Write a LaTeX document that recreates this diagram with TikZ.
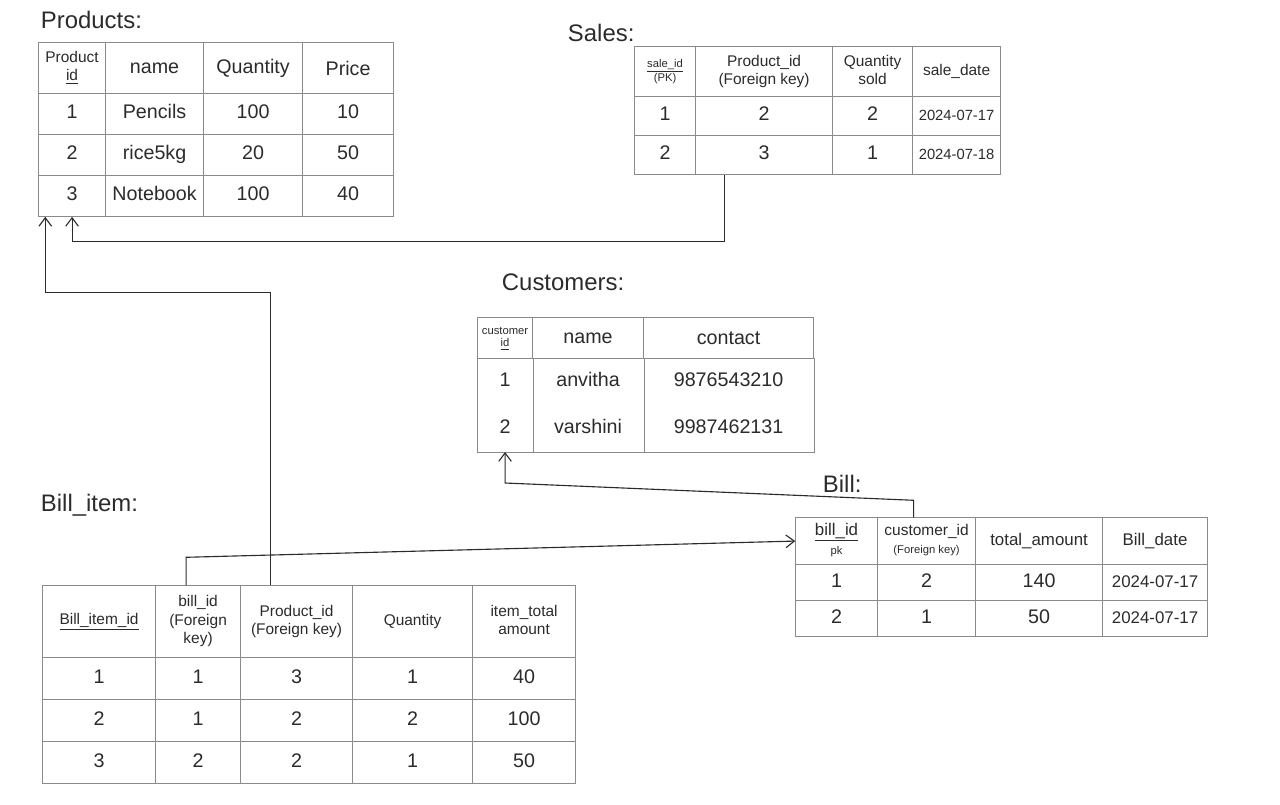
\documentclass[tikz,border=0pt]{standalone}
\usepackage{fontspec}
\setmainfont{Liberation Sans}
\usepackage{xcolor}
\usetikzlibrary{matrix,arrows.meta,calc}
\definecolor{gridc}{HTML}{8A8A8A}
\definecolor{inkc}{HTML}{2B2B2B}
\newcommand{\pxl}{0.025cm}
\newcommand{\ttlfont}{\fontsize{17}{20}\selectfont}
\newcommand{\bodyfont}{\fontsize{14}{16}\selectfont}
\newcommand{\midfont}{\fontsize{12}{14}\selectfont}
\newcommand{\headfont}{\fontsize{11}{13}\selectfont}
\newcommand{\datefont}{\fontsize{10.5}{12}\selectfont}
\newcommand{\smallhd}{\fontsize{8}{9}\selectfont}
\newcommand{\stk}[2]{\begin{tabular}{@{}c@{}}#1\\#2\end{tabular}}
\newcommand{\stkk}[3]{\begin{tabular}{@{}c@{}}#1\\#2\\#3\end{tabular}}

\begin{document}
\begin{tikzpicture}[
  x=\pxl, y=-\pxl,
  tbl/.style={matrix of nodes,anchor=north west,inner sep=0pt,
              column sep=-0.4pt,row sep=-0.4pt,
              nodes={draw=gridc,line width=0.4pt,inner sep=2pt,anchor=center,
                     text height=10pt,text depth=3pt,font=\bodyfont,text=inkc}},
  ttl/.style={font=\ttlfont,anchor=west,text=inkc},
  fk/.style={draw=inkc,line width=0.8pt,-{Straight Barb[length=6pt,width=9pt]}},
  grid/.style={draw=gridc,line width=0.4pt}
]
\useasboundingbox (0,0) rectangle (1280,804);

% titles
\node[ttl] (prodttl) at (36,20)  {Products:};
\node[ttl] (salettl) at (563,33) {Sales:};
\node[ttl] (custttl) at (497,282) {Customers:};
\node[ttl] (billttl) at (818,484) {Bill:};
\node[ttl] (itemttl) at (36,505) {Bill\_item:};

% Products
\matrix[tbl,nodes={minimum height=41*\pxl},
  column 1/.style={nodes={minimum width=67*\pxl}},
  column 2/.style={nodes={minimum width=98*\pxl}},
  column 3/.style={nodes={minimum width=99*\pxl}},
  column 4/.style={nodes={minimum width=91*\pxl}},
  row 1/.style={nodes={minimum height=51*\pxl,text height=,text depth=}}] (prod) at (38,42) {
  |[font=\headfont]| \stk{Product}{\underline{id}} & name & Quantity & Price \\
  1 & Pencils  & 100 & 10 \\
  2 & rice5kg  & 20  & 50 \\
  3 & Notebook & 100 & 40 \\
};

% Sales
\matrix[tbl,nodes={minimum height=39*\pxl},
  column 1/.style={nodes={minimum width=61*\pxl}},
  column 2/.style={nodes={minimum width=137*\pxl}},
  column 3/.style={nodes={minimum width=80*\pxl}},
  column 4/.style={nodes={minimum width=88*\pxl,font=\datefont}},
  row 1/.style={nodes={minimum height=50*\pxl,font=\headfont,text height=,text depth=}}] (sale) at (634,46) {
  |[font=\smallhd]| \stk{\underline{sale\_id}}{(PK)} & \stk{Product\_id}{(Foreign key)} & \stk{Quantity}{sold} & sale\_date \\
  1 & 2 & 2 & 2024-07-17 \\
  2 & 3 & 1 & 2024-07-18 \\
};

% Customers
\matrix[tbl,nodes={minimum height=47*\pxl},
  column 1/.style={nodes={minimum width=55*\pxl}},
  column 2/.style={nodes={minimum width=111*\pxl}},
  column 3/.style={nodes={minimum width=170*\pxl}},
  row 1/.style={nodes={minimum height=41*\pxl,text height=,text depth=}},
  row 2/.style={nodes={draw=none}},
  row 3/.style={nodes={draw=none}}] (cust) at (477,317) {
  |[font=\smallhd]| \stk{customer}{\underline{id}} & name & contact \\
  1 & anvitha  & 9876543210 \\
  2 & varshini & 9987462131 \\
};
\draw[grid] (cust-2-1.north west) rectangle (cust-3-3.south east);
\foreach \c in {1,2}
  \draw[grid] (cust-2-\c.north east) -- (cust-3-\c.south east);

% Bill
\matrix[tbl,nodes={minimum height=36*\pxl},
  column 1/.style={nodes={minimum width=82*\pxl}},
  column 2/.style={nodes={minimum width=98*\pxl}},
  column 3/.style={nodes={minimum width=127*\pxl}},
  column 4/.style={nodes={minimum width=105*\pxl,font=\midfont}},
  row 1/.style={nodes={minimum height=47*\pxl,font=\midfont,text height=,text depth=}}] (bill) at (795,517) {
  \stk{\underline{bill\_id}}{\smallhd pk} & |[font=\headfont]| \stk{customer\_id}{\smallhd (Foreign key)} & total\_amount & Bill\_date \\
  1 & 2 & 140 & 2024-07-17 \\
  2 & 1 & 50  & 2024-07-17 \\
};

% Bill_item
\matrix[tbl,nodes={minimum height=42*\pxl},
  column 1/.style={nodes={minimum width=113*\pxl}},
  column 2/.style={nodes={minimum width=85*\pxl}},
  column 3/.style={nodes={minimum width=112*\pxl}},
  column 4/.style={nodes={minimum width=120*\pxl}},
  column 5/.style={nodes={minimum width=103*\pxl}},
  row 1/.style={nodes={minimum height=72*\pxl,font=\headfont,text height=,text depth=}}] (item) at (42,585) {
  \underline{Bill\_item\_id} & \stkk{bill\_id}{(Foreign}{key)} & \stk{Product\_id}{(Foreign key)} & Quantity & \stk{item\_total}{amount} \\
  1 & 1 & 3 & 1 & 40 \\
  2 & 1 & 2 & 2 & 100 \\
  3 & 2 & 2 & 1 & 50 \\
};

% foreign keys
\draw[fk] ($(sale-3-2.south)+(-40,0)$) -- ++(0,67) -| (prod-4-1.south);
\draw[fk] ($(item-1-3.north)+(-26,0)$) -- ++(0,-293) -| ($(prod-4-1.south west)+(7,0)$);
\draw[fk] ($(item-1-2.north)+(-12,0)$) -- ++(0,-28) -- (bill-1-1.west);
\draw[fk] ($(bill-1-2.north)+(-13,0)$) -- ++(0,-17) -- ($(cust-3-1.south)+(0,31)$) -- (cust-3-1.south);
\end{tikzpicture}
\end{document}
